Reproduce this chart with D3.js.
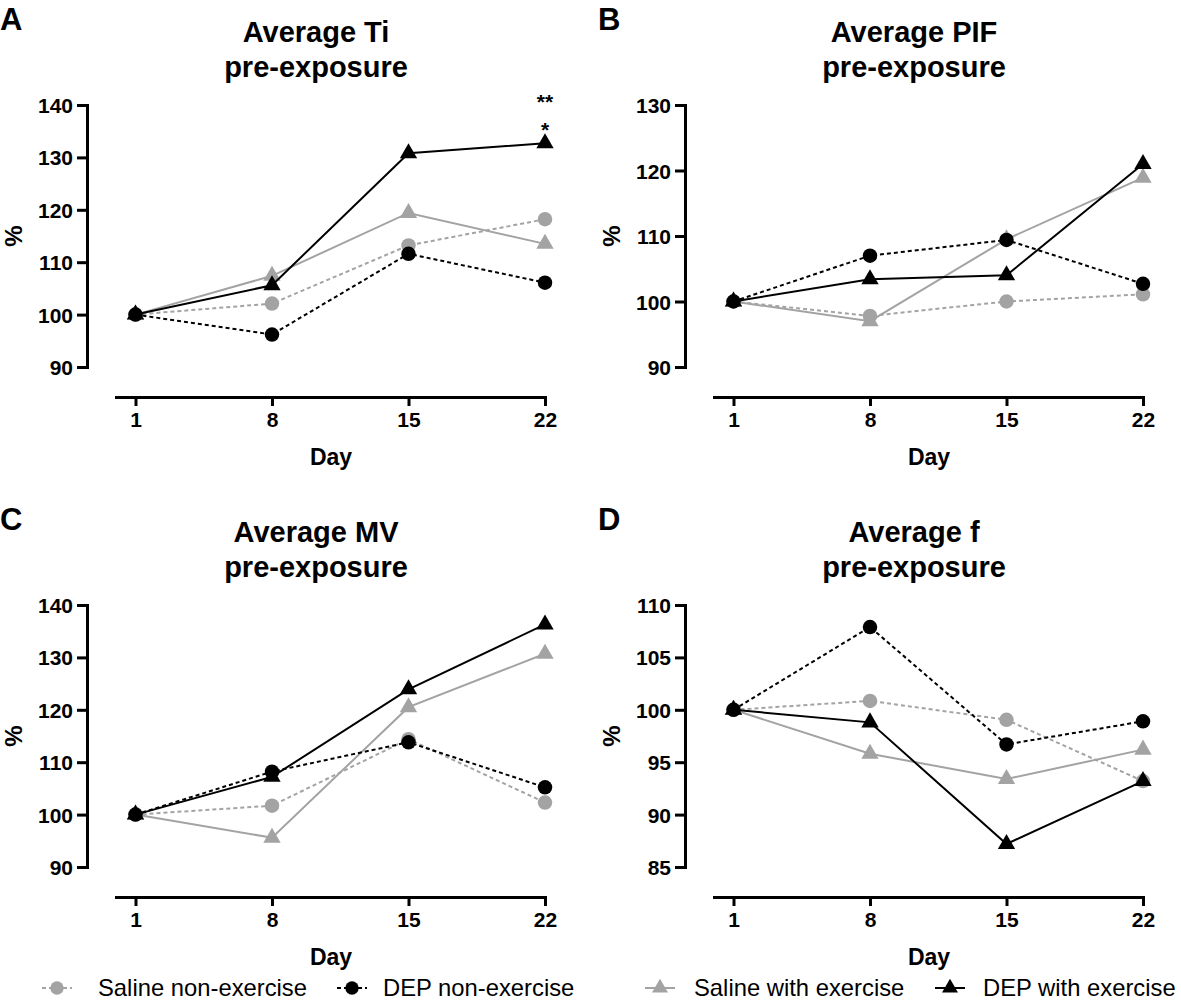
<html>

<head>
    <title>Pre-exposure averages</title>
    <script src="https://d3js.org/d3.v7.min.js"></script>
    <style>
        body { margin: 0; background: #fff; }
        text { font-family: "Liberation Sans", Arial, sans-serif; fill: #000; }
        .letter { font-weight: 700; }
    </style>
</head>

<body>
    <svg id="chart" width="1181" height="1000"></svg>
    <script>
        // x categories
        var days = [1, 8, 15, 22];

        // A: Average Ti
        var tiSalineNon = [100, 102.1, 113.2, 118.2];
        var tiDepNon = [100, 96.2, 111.6, 106.1];
        var tiSalineEx = [100, 107.4, 119.4, 113.5];
        var tiDepEx = [100, 105.6, 130.8, 132.7];

        // B: Average PIF
        var pifSalineNon = [100, 97.8, 100.0, 101.1];
        var pifDepNon = [100, 107.0, 109.4, 102.7];
        var pifSalineEx = [100, 97.0, 109.5, 118.9];
        var pifDepEx = [100, 103.4, 104.0, 121.0];

        // C: Average MV
        var mvSalineNon = [100, 101.7, 114.4, 102.3];
        var mvDepNon = [100, 108.2, 113.8, 105.2];
        var mvSalineEx = [100, 95.6, 120.5, 130.7];
        var mvDepEx = [100, 107.2, 123.9, 136.3];

        // D: Average f
        var fSalineNon = [100, 100.85, 99.05, 93.2];
        var fDepNon = [100, 107.9, 96.7, 98.9];
        var fSalineEx = [100, 95.8, 93.4, 96.2];
        var fDepEx = [100, 98.8, 87.2, 93.2];

        var tiTicks = [90, 100, 110, 120, 130, 140];
        var pifTicks = [90, 100, 110, 120, 130];
        var mvTicks = [90, 100, 110, 120, 130, 140];
        var fTicks = [85, 90, 95, 100, 105, 110];

        var seriesNames = ["Saline non-exercise", "DEP non-exercise", "Saline with exercise", "DEP with exercise"];

        var grey = "#a3a3a3";
        var styles = [
            { color: grey, dash: "4,3", shape: d3.symbolCircle },
            { color: "#000", dash: "4,3", shape: d3.symbolCircle },
            { color: grey, dash: null, shape: d3.symbolTriangle },
            { color: "#000", dash: null, shape: d3.symbolTriangle }
        ];

        var panels = [
            { letter: "A", title: ["Average Ti", "pre-exposure"], ox: 0, oy: 0, ticks: tiTicks,
              series: [tiSalineNon, tiDepNon, tiSalineEx, tiDepEx],
              stars: [{ day: 22, value: 141, text: "**" }, { day: 22, value: 135.6, text: "*" }] },
            { letter: "B", title: ["Average PIF", "pre-exposure"], ox: 598, oy: 0, ticks: pifTicks,
              series: [pifSalineNon, pifDepNon, pifSalineEx, pifDepEx], stars: [] },
            { letter: "C", title: ["Average MV", "pre-exposure"], ox: 0, oy: 500, ticks: mvTicks,
              series: [mvSalineNon, mvDepNon, mvSalineEx, mvDepEx], stars: [] },
            { letter: "D", title: ["Average f", "pre-exposure"], ox: 598, oy: 500, ticks: fTicks,
              series: [fSalineNon, fDepNon, fSalineEx, fDepEx], stars: [] }
        ];

        var svg = d3.select("#chart");
        var drawOrder = [0, 2, 1, 3];

        panels.forEach(function (p) {
            var g = svg.append("g").attr("transform", "translate(" + p.ox + "," + p.oy + ")");
            var yAxisX = 87, top = 105, bottom = 367, xAxisY = 397;

            var x = d3.scaleLinear().domain([0, 22]).range([116, 545]);
            var y = d3.scaleLinear().domain(d3.extent(p.ticks)).range([bottom, top]);

            g.append("text").attr("class", "letter").attr("x", 0).attr("y", 30)
                .style("font-size", "31px").text(p.letter);

            g.append("text").attr("x", 316).attr("y", 42).attr("text-anchor", "middle")
                .style("font-size", "29px").style("font-weight", "bold").text(p.title[0]);
            g.append("text").attr("x", 316).attr("y", 77).attr("text-anchor", "middle")
                .style("font-size", "29px").style("font-weight", "bold").text(p.title[1]);

            // y axis
            var ya = g.append("g").attr("transform", "translate(" + yAxisX + ",0)")
                .call(d3.axisLeft(y).tickValues(p.ticks).tickSize(10).tickPadding(4).tickSizeOuter(0));
            // x axis
            var xa = g.append("g").attr("transform", "translate(0," + xAxisY + ")")
                .call(d3.axisBottom(x).tickValues(days).tickSize(9).tickPadding(6).tickSizeOuter(0));

            [ya, xa].forEach(function (a) {
                a.select(".domain").attr("stroke", "#000").attr("stroke-width", 3).attr("stroke-linecap", "square");
                a.selectAll(".tick line").attr("stroke", "#000").attr("stroke-width", 3);
                a.selectAll(".tick text").style("font-family", "'Liberation Sans', Arial, sans-serif")
                    .style("font-size", "21px").style("font-weight", "bold").attr("fill", "#000");
            });
            ya.selectAll(".tick text").attr("dy", "0.36em");

            g.append("text").attr("transform", "translate(22,236) rotate(-90)")
                .attr("text-anchor", "middle").style("font-size", "24px").style("font-weight", "bold").text("%");
            g.append("text").attr("x", 331).attr("y", 465).attr("text-anchor", "middle")
                .style("font-size", "23px").style("font-weight", "bold").text("Day");

            var line = d3.line().x(function (d, i) { return x(days[i]); }).y(function (d) { return y(d); });

            drawOrder.forEach(function (k) {
                var s = styles[k];
                g.append("path").datum(p.series[k]).attr("d", line)
                    .attr("fill", "none").attr("stroke", s.color).attr("stroke-width", 2)
                    .attr("stroke-dasharray", s.dash);
                g.selectAll(null).data(p.series[k]).enter().append("path")
                    .attr("d", d3.symbol().type(s.shape).size(s.shape === d3.symbolCircle ? 165 : 130))
                    .attr("transform", function (d, i) { return "translate(" + x(days[i]) + "," + y(d) + ")"; })
                    .attr("fill", s.color);
            });

            g.selectAll(null).data(p.stars).enter().append("text")
                .attr("x", function (d) { return x(d.day); })
                .attr("y", function (d) { return y(d.value) + 9; })
                .attr("text-anchor", "middle").style("font-size", "21px").style("font-weight", "bold")
                .text(function (d) { return d.text; });
        });

        // legends
        var legendItems = [
            { k: 0, mx: 57, tx: 98 },
            { k: 1, mx: 352, tx: 383 },
            { k: 2, mx: 660, tx: 694 },
            { k: 3, mx: 950, tx: 983 }
        ];
        var lg = svg.append("g").attr("transform", "translate(0,988)");
        legendItems.forEach(function (it) {
            var s = styles[it.k];
            lg.append("line").attr("x1", it.mx - 15).attr("x2", it.mx + 15).attr("y1", 0).attr("y2", 0)
                .attr("stroke", s.color).attr("stroke-width", 2).attr("stroke-dasharray", s.dash);
            lg.append("path")
                .attr("d", d3.symbol().type(s.shape).size(s.shape === d3.symbolCircle ? 140 : 110))
                .attr("transform", "translate(" + it.mx + ",0)").attr("fill", s.color);
            lg.append("text").attr("x", it.tx).attr("y", 8).style("font-size", "23.8px").text(seriesNames[it.k]);
        });
    </script>
</body>

</html>
